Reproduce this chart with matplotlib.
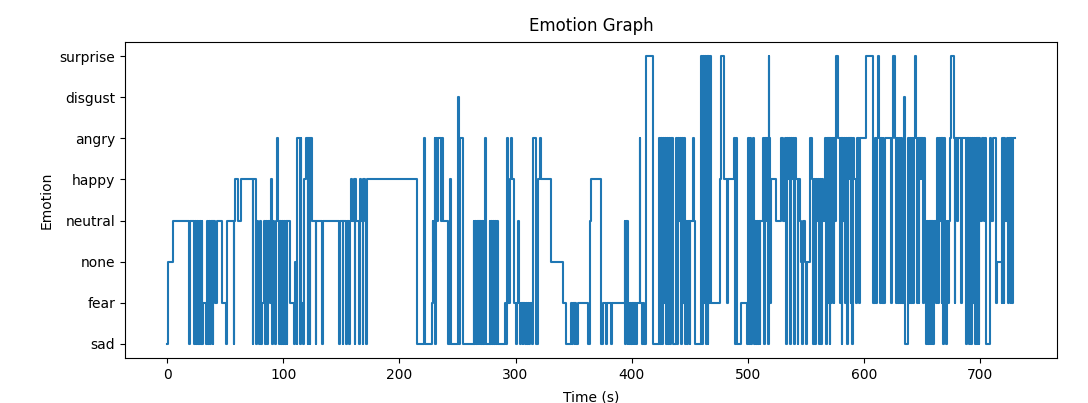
#!/usr/bin/env python3
"""Emotion over time: recreated step-like line chart."""
import matplotlib
matplotlib.use('Agg')
import matplotlib.pyplot as plt

# y categories, bottom to top
emotions = ['sad', 'fear', 'none', 'neutral', 'happy', 'angry', 'disgust', 'surprise']

# time (s) at which the detected emotion changes
times = [
    0, 0.5, 4.6, 19, 19.8, 23, 23.8, 25, 25.6, 26.3, 27, 27.6, 28.3, 29, 29.5, 30.2, 31, 33.5, 34.3, 35,
    35.8, 37, 37.6, 39, 39.6, 41, 43, 47, 50.3, 51, 57, 57.6, 58.2, 60.5, 63.5, 73.5, 74, 76.3, 77, 78,
    79, 79.6, 81, 81.5, 83, 84, 84.6, 86, 86.5, 88, 89, 90, 90.6, 92, 93, 93.6, 94.6, 95.4, 96.5, 97,
    98, 98.6, 100, 100.5, 101.5, 102, 103, 103.5, 105.5, 109, 109.6, 110.2, 111.6, 112, 114.2, 114.8, 115.5, 117, 117.6, 119.2,
    121, 121.5, 122.5, 123, 124.5, 127.8, 128.4, 133.5, 134.2,
    148, 148.6, 151, 151.6, 153.8, 154.4, 156.8, 157.4, 158.3, 159.5, 160.5, 161.5, 162, 162.6, 165.3, 166, 167, 168.2, 168.8, 170,
    171, 171.6, 215.2,
    221.5, 222.3, 228, 228.6, 229.2, 229.8, 230.2, 231, 231.6, 232.5, 233.3, 235.6, 236.2, 237.4, 241.5, 243.6, 244.2, 250.3, 251.2, 251.8,
    254.6, 264, 264.6, 265.2, 266, 266.6, 267.5, 268, 269, 269.6, 270.4, 271, 272, 272.6, 273.3, 274, 274.6, 277.6, 278.3, 279,
    280, 280.6, 281.5, 282, 283, 283.6, 285.3, 290.5, 291.4, 292.6, 293.4, 295, 296, 297,
    299, 300, 301, 302, 302.8, 304, 304.6, 306, 306.6, 308, 308.6, 310, 310.6, 312, 312.6, 314, 315.2, 317.5, 319.2, 321.2,
    322, 330.7, 340.8, 343.7, 348, 349, 349.6, 351, 351.6, 352.5, 353.7, 362.3, 364, 365, 373.9, 375,
    378, 378.6, 382.3, 383, 394, 394.6, 395.2, 396.5, 397, 398, 398.6, 399.5, 400, 401, 401.6, 402.5, 403, 404, 404.6, 406.8,
    407.6, 409, 409.6, 411, 412.6, 418.4, 424, 424.8, 425.4, 426.5, 427, 428, 428.6, 429.6, 430.2, 431.5, 432, 433, 433.6, 435.8,
    438.6, 439.5, 440, 441, 441.6, 442.6, 443.2, 444.2, 445, 445.8, 447, 448, 448.6, 450, 450.6, 452.6, 453.5,
    454.3, 460, 461, 461.6, 462.5, 463, 464, 464.6, 465.5, 466, 467, 467.6, 468.7, 475.9, 477, 479.5, 482, 483, 488, 489,
    489.6, 491, 494.6, 499, 500, 501, 501.6, 502.5, 503.2, 503.8, 505, 505.6, 506.2, 507.2, 507.8, 509, 509.6, 510.5, 511, 513.2,
    514, 514.6, 515.6, 516.2, 517.5, 518, 518.7, 519.5, 520.3, 524.6, 529, 530,
    532, 533, 533.6, 534.5, 535.2, 536.5, 537, 538, 539, 540, 540.6, 542, 543, 543.6, 544.8, 546, 547, 547.6, 549, 550.5,
    551, 553.4, 555, 556.3, 557, 558, 558.6, 559.6, 560.4, 561.5, 562, 563, 563.6, 565, 566.4, 567.3, 568, 569, 569.6, 570.6,
    571.2, 572.2, 573, 574, 574.6, 575.5, 576.4, 578, 579.3, 580, 581, 581.6, 582.5, 583, 584, 584.6, 585.6, 586.2, 587, 587.6,
    588.6, 589.2, 590.2, 590.8, 592, 593.6, 594.6, 595.6, 596.5, 602.3, 608.1,
    609.5, 610.5, 611.5, 612.3, 613, 614, 614.6, 615.6, 616.4, 617, 618, 623.5, 624.3, 625.6, 627, 628, 628.6, 629.6, 630.2, 631,
    632, 633, 634.5, 635.3, 638.2, 639, 639.6, 640.6, 641.2, 642.2, 643, 644, 644.8, 645.8, 646.4, 647.5, 648, 649, 649.6, 651,
    651.6, 653, 654, 654.6, 655.5, 656, 657, 657.5, 658.5, 659, 660, 660.6, 662, 663, 664, 664.6, 665.6, 666.2, 667, 667.6,
    668.6, 669.2, 670.4, 671, 671.6, 672.6, 673.2, 674.5, 675.2, 677.5, 678.5, 679, 680, 681, 684, 684.6,
    688, 688.6, 689.5, 690, 691, 691.6, 692.6, 693.2, 694.2, 695, 696, 696.5, 697.5, 698, 699, 699.6, 700.5, 702, 703.5, 704.5,
    705.5, 708.6, 710, 711, 713.6, 714.4, 718.7, 719.5, 720.5, 721, 722, 723, 724, 725.5, 726.5, 727, 728, 728.6, 730,
]

# index into `emotions` for each entry of `times`
levels = [
    0, 2, 3, 0, 3, 0, 3, 0, 3, 0, 3, 0, 3, 0, 3, 0, 1, 0, 3, 0,
    3, 0, 3, 0, 3, 1, 3, 1, 0, 3, 0, 3, 4, 3, 4, 0, 4, 0, 3, 1,
    0, 3, 0, 1, 3, 0, 3, 0, 3, 1, 4, 0, 3, 1, 0, 3, 5, 3, 0, 3,
    0, 3, 0, 3, 0, 3, 0, 3, 1, 0, 1, 2, 0, 5, 0, 5, 1, 0, 4, 5,
    0, 5, 0, 5, 3, 0, 3, 0, 3,
    0, 3, 0, 3, 0, 3, 0, 3, 4, 3, 4, 0, 4, 3, 0, 4, 3, 0, 4, 3,
    0, 4, 0,
    5, 0, 1, 3, 2, 3, 5, 0, 5, 3, 5, 3, 5, 3, 0, 4, 0, 6, 0, 5,
    0, 3, 0, 3, 0, 3, 0, 3, 0, 3, 0, 3, 0, 3, 0, 5, 0, 3, 0, 3,
    0, 3, 0, 3, 0, 3, 0, 1, 0, 5, 1, 4, 5, 4,
    1, 0, 1, 3, 1, 0, 1, 0, 1, 0, 1, 0, 1, 0, 1, 0, 5, 0, 4, 5,
    4, 2, 1, 0, 1, 0, 1, 0, 1, 0, 1, 0, 3, 4, 0, 1,
    0, 1, 0, 1, 3, 0, 3, 0, 1, 0, 1, 0, 1, 0, 1, 0, 1, 0, 1, 5,
    1, 0, 1, 0, 7, 0, 5, 0, 5, 0, 5, 1, 5, 0, 5, 0, 5, 0, 5, 0,
    5, 0, 5, 3, 5, 0, 5, 1, 5, 0, 3, 0, 3, 0, 3, 5, 3,
    0, 7, 0, 7, 1, 7, 0, 7, 0, 7, 1, 7, 1, 4, 7, 4, 1, 4, 5, 0,
    5, 0, 1, 0, 5, 0, 5, 3, 0, 3, 5, 0, 3, 0, 3, 0, 3, 0, 3, 5,
    0, 5, 3, 5, 0, 7, 5, 1, 4, 3, 5, 3,
    5, 0, 5, 4, 5, 0, 5, 4, 5, 0, 5, 4, 0, 4, 3, 2, 0, 3, 2, 0,
    2, 5, 4, 0, 4, 0, 4, 3, 4, 0, 4, 0, 4, 3, 5, 0, 5, 1, 5, 0,
    5, 1, 5, 1, 5, 3, 7, 5, 1, 5, 0, 5, 3, 5, 1, 5, 0, 5, 4, 5,
    1, 5, 0, 5, 4, 1, 5, 1, 5, 7, 1,
    5, 1, 5, 7, 5, 1, 5, 1, 5, 1, 5, 1, 5, 7, 5, 1, 5, 1, 5, 1,
    5, 1, 6, 0, 5, 1, 5, 1, 5, 1, 5, 7, 5, 1, 5, 1, 5, 4, 5, 1,
    5, 3, 0, 3, 0, 3, 0, 3, 0, 3, 0, 3, 1, 5, 1, 5, 3, 5, 1, 5,
    0, 5, 3, 0, 3, 1, 3, 5, 7, 5, 1, 5, 3, 5, 1, 5,
    0, 5, 1, 5, 0, 5, 0, 5, 1, 5, 0, 5, 0, 5, 0, 5, 3, 5, 3, 5,
    0, 5, 3, 5, 1, 2, 1, 5, 1, 5, 3, 5, 1, 5, 1, 5, 1, 5, 5,
]

assert len(times) == len(levels), (len(times), len(levels))

fig = plt.figure(figsize=(10.88, 4.03), dpi=100)
ax = fig.add_axes([0.1149, 0.1117, 0.8566, 0.7841])

ax.plot(times, levels, color='tab:blue', linewidth=1.5, drawstyle='steps-post')

ax.set_yticks(range(len(emotions)))
ax.set_yticklabels(emotions)
ax.set_ylim(-0.35, len(emotions) - 1 + 0.35)
ax.set_xlim(-36.5, 766.5)

ax.set_title('Emotion Graph', pad=8)
ax.set_xlabel('Time (s)', labelpad=6)
ax.set_ylabel('Emotion')

fig.savefig('out.png', dpi=100)
